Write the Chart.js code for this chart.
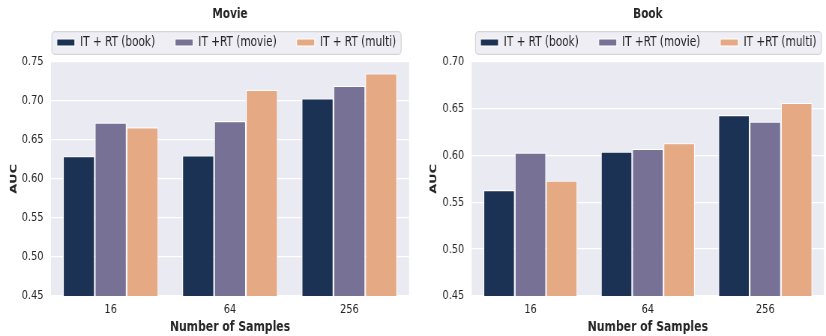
<!DOCTYPE html>
<html>
<head>
<meta charset="utf-8">
<script src="https://cdn.jsdelivr.net/npm/chart.js@4/dist/chart.umd.min.js"></script>
<style>
  html, body { margin: 0; padding: 0; background: #ffffff; overflow: hidden; }
  #wrap { position: relative; width: 826px; height: 336px; overflow: hidden; }
  /* the panels are drawn wide and narrowed horizontally, giving the condensed lettering */
  canvas { position: absolute; top: 0; transform-origin: 0 0; }
</style>
</head>
<body>
<div id="wrap">
  <canvas id="movieChart" width="551" height="336"></canvas>
  <canvas id="bookChart" width="551" height="336"></canvas>
</div>
<script>
// Sample sizes on the x axis
const categories = ['16', '64', '256'];

// Legend labels for each panel
const movieSeriesLabels = ['IT + RT (book)', 'IT +RT (movie)', 'IT + RT (multi)'];
const bookSeriesLabels  = ['IT + RT (book)', 'IT +RT (movie)', 'IT +RT (multi)'];

// AUC on the Movie domain
const movieBook  = [0.629, 0.630, 0.703];
const movieMovie = [0.672, 0.674, 0.719];
const movieMulti = [0.666, 0.714, 0.735];

// AUC on the Book domain
const bookBook  = [0.563, 0.604, 0.643];
const bookMovie = [0.603, 0.607, 0.636];
const bookMulti = [0.573, 0.613, 0.656];

// Y tick values
const movieTicks = [0.45, 0.50, 0.55, 0.60, 0.65, 0.70, 0.75];
const bookTicks  = [0.45, 0.50, 0.55, 0.60, 0.65, 0.70];

const palette = ['#1c3254', '#787196', '#e5a984'];
const FONT = "'DejaVu Sans', 'Liberation Sans', sans-serif";
const TEXT = '#262626';

// Horizontal squeeze applied to each panel canvas
const PANEL_W = 551;
const SX = 413 / PANEL_W;
const px = v => v / SX;   // on-screen horizontal length -> canvas units

document.getElementById('movieChart').style.transform = `scaleX(${SX})`;
document.getElementById('movieChart').style.left = '0px';
document.getElementById('bookChart').style.transform = `scaleX(${SX})`;
document.getElementById('bookChart').style.left = '413px';

// Fills the plotting area with the grey panel colour
const panelBackground = {
  id: 'panelBackground',
  beforeDraw(chart) {
    const { ctx, chartArea: a } = chart;
    ctx.save();
    ctx.fillStyle = '#eaeaf2';
    ctx.fillRect(a.left, a.top, a.right - a.left, a.bottom - a.top);
    ctx.restore();
  }
};

// Centres title and legend over the plotting area and frames the legend
function headerLayout(legendShiftX, legendShiftY) {
  return {
    id: 'headerLayout',
    afterUpdate(chart) {
      const a = chart.chartArea;
      const mid = (a.left + a.right) / 2;
      const T = chart.titleBlock;
      if (T) {
        const dt = mid - (T.left + T.right) / 2;
        T.left += dt; T.right += dt;
      }
      const L = chart.legend;
      if (!L || !L.legendHitBoxes || !L.legendHitBoxes.length) return;
      const hb = L.legendHitBoxes;
      const minL = Math.min(...hb.map(h => h.left));
      const maxR = Math.max(...hb.map(h => h.left + h.width));
      const dx = mid + legendShiftX - (minL + maxR) / 2;
      L.left += dx; L.right += dx; L.top += legendShiftY; L.bottom += legendShiftY;
      hb.forEach(h => { h.left += dx; h.top += legendShiftY; });
    },
    beforeDraw(chart) {
      const L = chart.legend;
      if (!L || !L.legendHitBoxes || !L.legendHitBoxes.length) return;
      const hb = L.legendHitBoxes;
      const minL = Math.min(...hb.map(h => h.left)) - px(5);
      const maxR = Math.max(...hb.map(h => h.left + h.width)) + px(5);
      const cy = hb[0].top + hb[0].height / 2;
      const top = cy - 11.3, h = 22.6;
      const { ctx } = chart;
      ctx.save();
      ctx.beginPath();
      ctx.roundRect(minL, top + 0.5, maxR - minL, h, [4]);
      ctx.fillStyle = '#eeeef4';
      ctx.fill();
      ctx.strokeStyle = '#d4d4da';
      ctx.lineWidth = 1.2;
      ctx.stroke();
      ctx.restore();
    }
  };
}

function buildDatasets(labels, series) {
  return series.map((values, i) => ({
    label: labels[i],
    data: values,
    backgroundColor: palette[i],
    borderColor: '#ffffff',
    borderWidth: 1.1,
    categoryPercentage: 0.8,
    barPercentage: 1.0
  }));
}

function makeChart(canvasId, cfg) {
  return new Chart(document.getElementById(canvasId), {
    type: 'bar',
    data: { labels: categories, datasets: buildDatasets(cfg.seriesLabels, cfg.series) },
    plugins: [panelBackground, headerLayout(px(cfg.legendShiftX), -2.2)],
    options: {
      responsive: false,
      animation: false,
      devicePixelRatio: 1,
      layout: { padding: { left: 0, right: px(cfg.padRight), top: 0, bottom: 0 } },
      plugins: {
        title: {
          display: true,
          text: cfg.title,
          color: TEXT,
          font: { family: FONT, size: 14, weight: 'bold' },
          padding: { top: 5.6, bottom: -11.4 }
        },
        legend: {
          display: true,
          position: 'top',
          labels: {
            boxWidth: px(18),
            boxHeight: 7,
            padding: px(20),
            color: TEXT,
            font: { family: FONT, size: 14 }
          }
        },
        tooltip: { enabled: false }
      },
      scales: {
        x: {
          grid: { display: false, drawTicks: false },
          border: { display: false },
          ticks: { color: TEXT, padding: 5.9, font: { family: FONT, size: 13 } },
          title: {
            display: true,
            text: 'Number of Samples',
            color: TEXT,
            font: { family: FONT, size: 14.5, weight: 'bold' },
            padding: { top: 0, bottom: 0.3 }
          },
          afterFit(scale) { scale.height = 40; }
        },
        y: {
          min: cfg.ticks[0],
          max: cfg.ticks[cfg.ticks.length - 1],
          afterBuildTicks(scale) { scale.ticks = cfg.ticks.map(v => ({ value: v })); },
          grid: { color: '#ffffff', lineWidth: 1.3, drawTicks: false },
          border: { display: false },
          ticks: {
            color: TEXT,
            padding: px(7.5),
            font: { family: FONT, size: 13 },
            callback: v => Number(v).toFixed(2)
          },
          title: {
            display: true,
            text: 'AUC',
            color: TEXT,
            font: { family: FONT, size: 13, weight: 'bold' },
            padding: { top: cfg.yTitlePad, bottom: 0 }
          },
          afterFit(scale) { scale.width = px(cfg.yWidth); }
        }
      }
    }
  });
}

makeChart('movieChart', {
  title: 'Movie',
  seriesLabels: movieSeriesLabels,
  series: [movieBook, movieMovie, movieMulti],
  ticks: movieTicks,
  yWidth: 51,
  yTitlePad: px(14.2) - 7.8,
  padRight: 4,
  legendShiftX: -3.5
});

makeChart('bookChart', {
  title: 'Book',
  seriesLabels: bookSeriesLabels,
  series: [bookBook, bookMovie, bookMulti],
  ticks: bookTicks,
  yWidth: 58.7,
  yTitlePad: px(20.5) - 7.8,
  padRight: 2,
  legendShiftX: 0.6
});
</script>
</body>
</html>
